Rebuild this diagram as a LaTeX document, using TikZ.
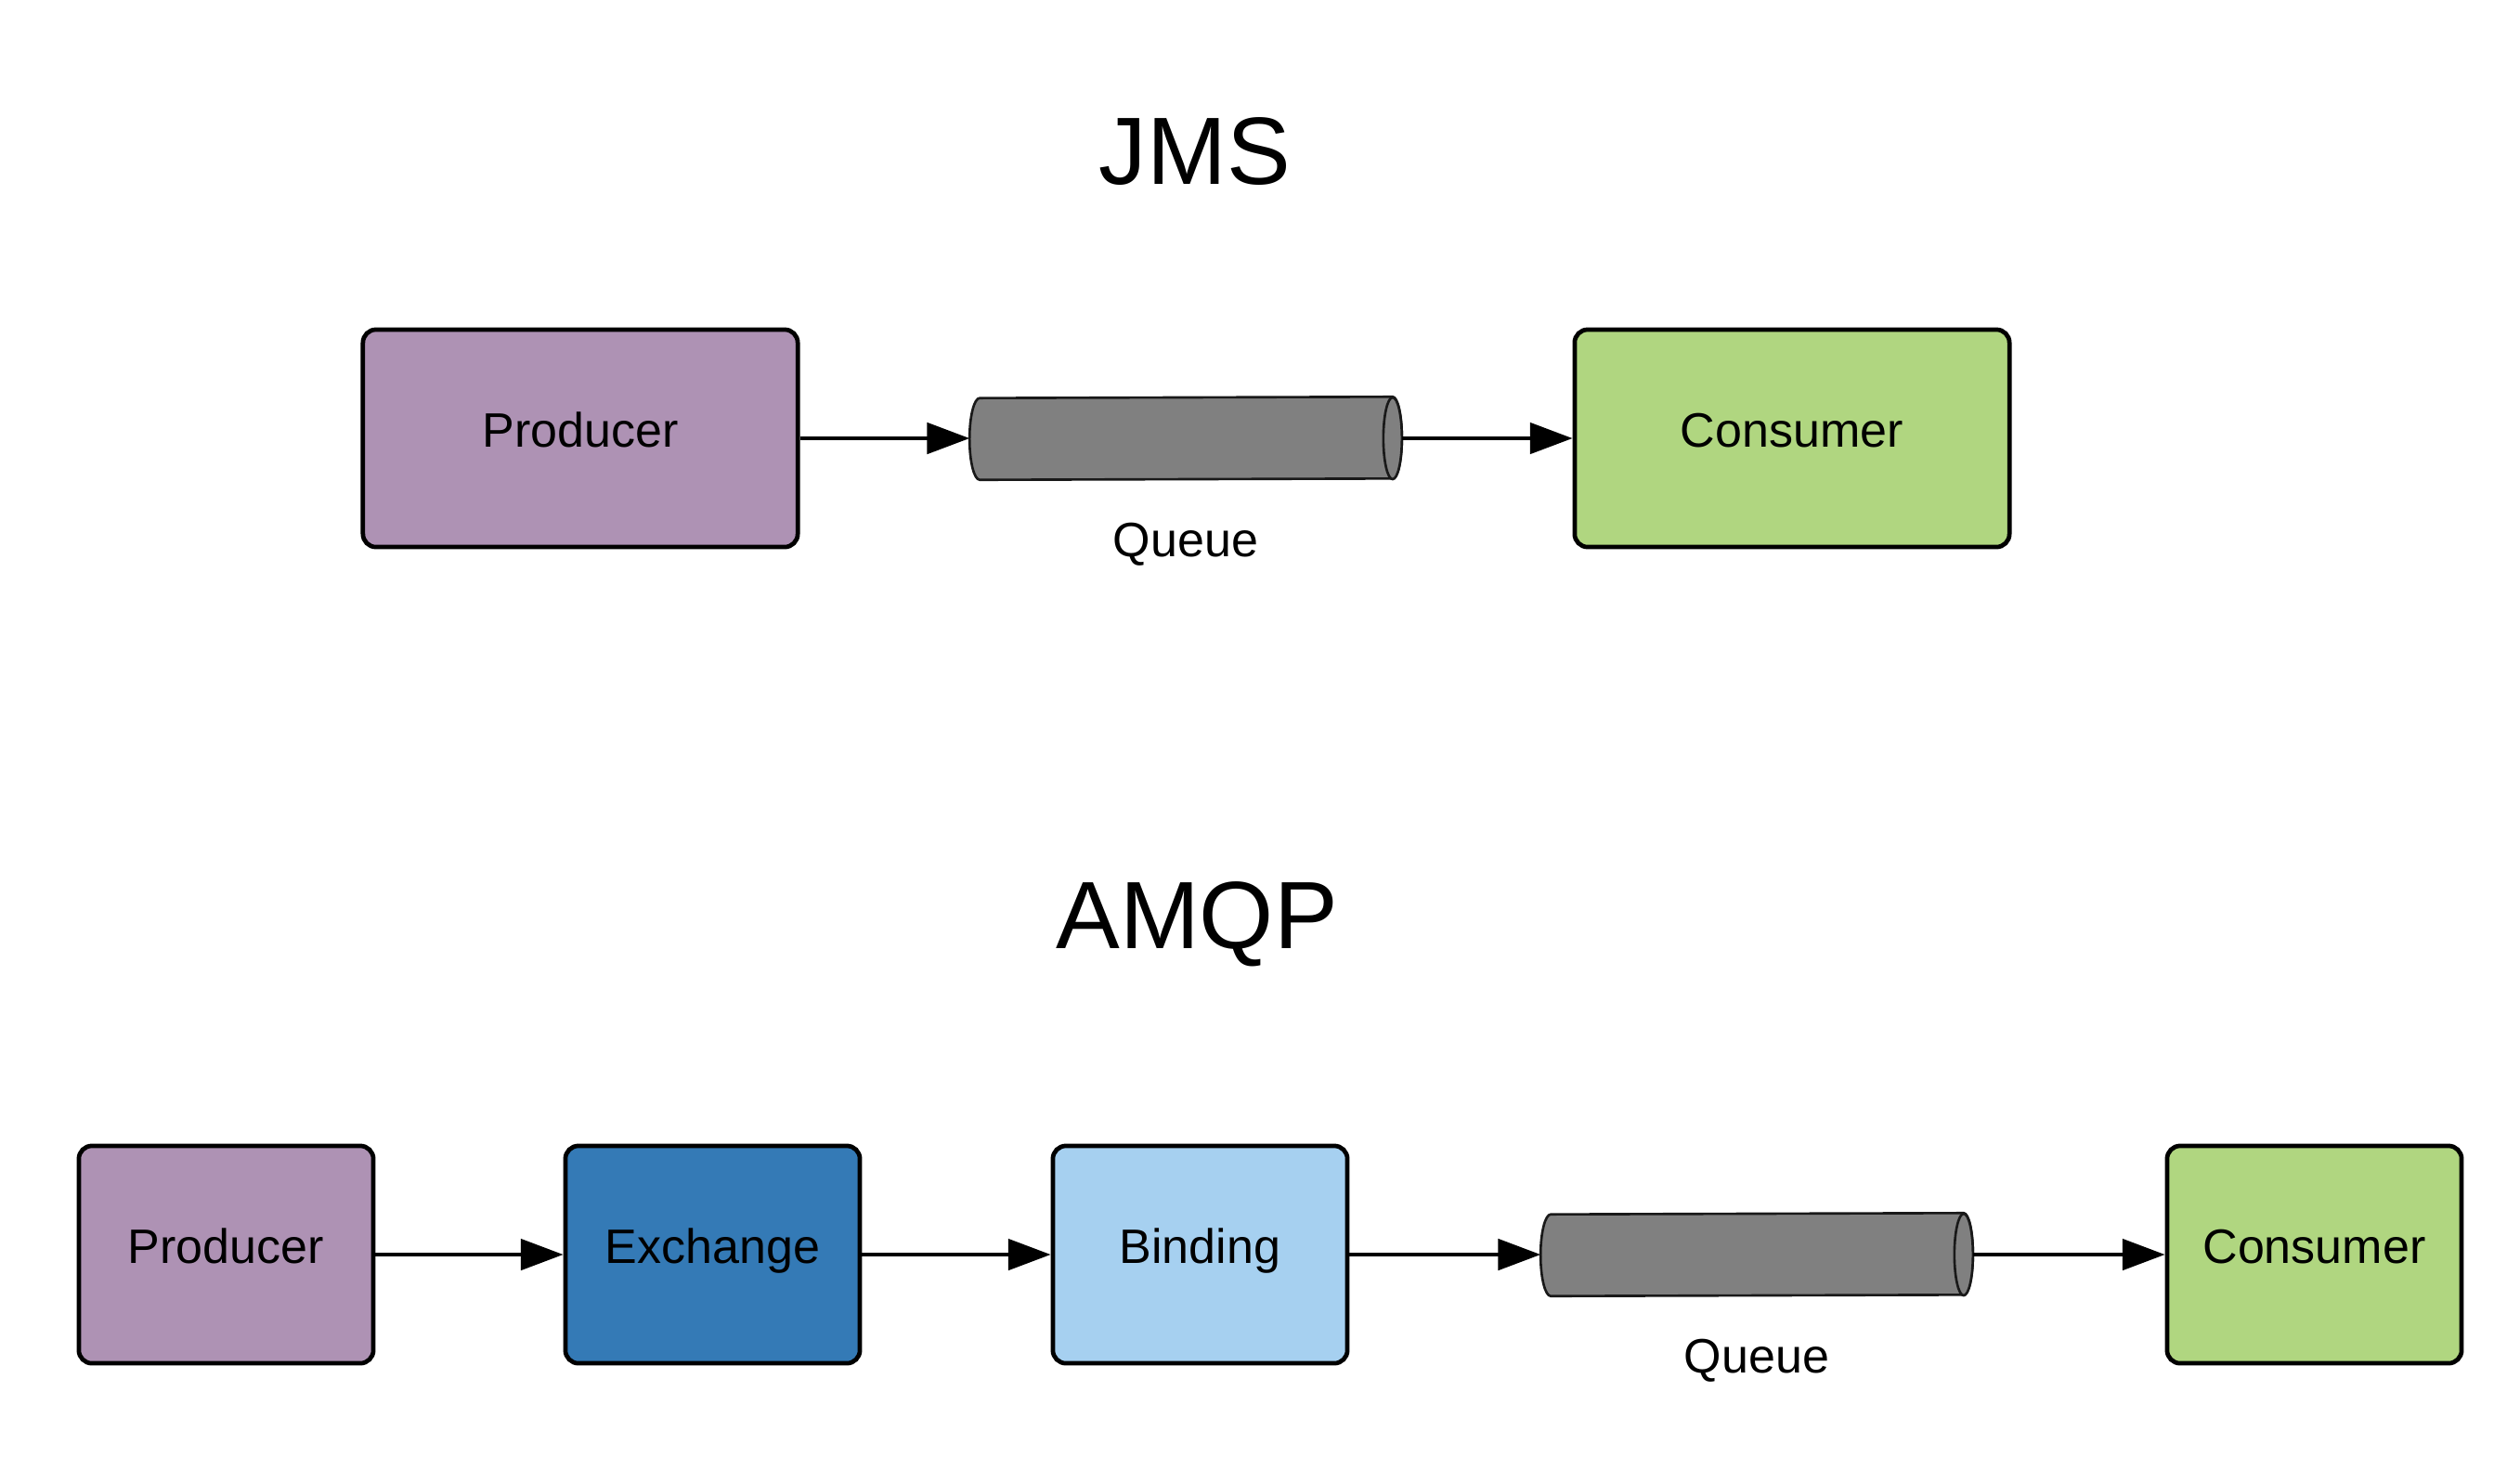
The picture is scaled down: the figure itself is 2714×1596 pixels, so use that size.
\documentclass[tikz,border=0pt]{standalone}
\usepackage{fontspec}
\setmainfont{Liberation Sans}
\usetikzlibrary{arrows.meta,positioning}

\definecolor{prodpurple}{RGB}{174,146,180}
\definecolor{consgreen}{RGB}{176,214,128}
\definecolor{exchblue}{RGB}{52,122,182}
\definecolor{bindblue}{RGB}{166,208,240}
\definecolor{queuegray}{RGB}{128,128,128}

% cylinder body drawn over an invisible placeholder node
\newcommand\queuebody[1]{%
  \path[cyl] ([xshift=-0.1cm]#1.north east)
    arc[x radius=0.1cm, y radius=0.44cm, start angle=90, end angle=-90]
    -- ([xshift=0.11cm]#1.south west)
    arc[x radius=0.11cm, y radius=0.44cm, start angle=270, end angle=90]
    -- cycle;
  \path[cyl] ([xshift=-0.1cm]#1.east) ellipse[x radius=0.1cm, y radius=0.44cm];
}

\begin{document}
\begin{tikzpicture}[x=0.01cm, y=-0.01cm,
  box/.style={draw=black, line width=1.35pt, rounded corners=4pt, inner sep=0pt,
    font=\fontsize{14.8}{16}\selectfont, text height=10.6pt, text depth=5pt},
  widebox/.style={box, minimum width=4.68cm, minimum height=2.34cm},
  narrowbox/.style={box, minimum width=3.17cm, minimum height=2.34cm},
  heading/.style={font=\fontsize{29.3}{32}\selectfont, inner sep=0pt,
    text height=21pt, text depth=0pt},
  qbox/.style={minimum width=4.64cm, minimum height=0.88cm, inner sep=0pt},
  cyl/.style={draw=black!90, line width=0.75pt, fill=queuegray},
  flow/.style={draw=black, line width=1pt, -{Triangle[length=13pt,width=9.5pt]}},
  lbl/.style={font=\fontsize{14.8}{16}\selectfont, inner sep=0pt,
    text height=10.6pt, text depth=3.1pt}
]
\useasboundingbox (0,0) rectangle (2714,1596);

% ---------------- JMS ----------------
\node[heading] (jms) at (1287,162) {JMS};

\node[widebox, fill=prodpurple] (prod1) at (625,472) {Producer};
\node[qbox] (q1) at (1277,472) {};
\queuebody{q1}
\node[lbl, below=0.45cm of q1] (q1lbl) {Queue};
\node[widebox, fill=consgreen] (cons1) at (1930,472) {Consumer};

\draw[flow] (prod1.east) -- (q1.west);
\draw[flow] (q1.east) -- (cons1.west);

% ---------------- AMQP ----------------
\node[heading] (amqp) at (1289,985) {AMQP};

\node[narrowbox, fill=prodpurple] (prod2) at (243.5,1351) {Producer};
\node[narrowbox, fill=exchblue] (exch) at (767.5,1351) {Exchange};
\node[narrowbox, fill=bindblue] (bind) at (1292.5,1351) {Binding};
\node[qbox] (q2) at (1892,1351) {};
\queuebody{q2}
\node[lbl, below=0.45cm of q2] (q2lbl) {Queue};
\node[narrowbox, fill=consgreen] (cons2) at (2492.5,1351) {Consumer};

\draw[flow] (prod2.east) -- (exch.west);
\draw[flow] (exch.east) -- (bind.west);
\draw[flow] (bind.east) -- (q2.west);
\draw[flow] (q2.east) -- (cons2.west);
\end{tikzpicture}
\end{document}
